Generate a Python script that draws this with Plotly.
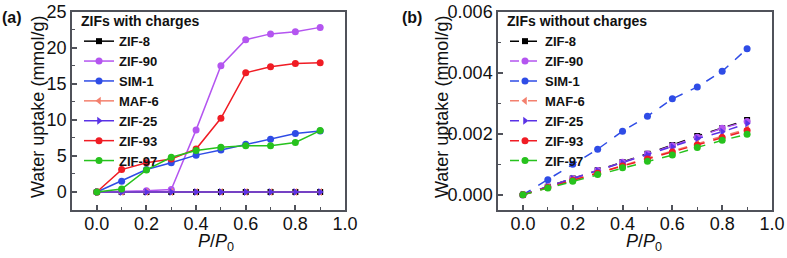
import plotly.graph_objects as go

W, H = 787, 258

p_p0 = [0.0, 0.1, 0.2, 0.3, 0.4, 0.5, 0.6, 0.7, 0.8, 0.9]
names = ["ZIF-8", "ZIF-90", "SIM-1", "MAF-6", "ZIF-25", "ZIF-93", "ZIF-97"]

# (a) ZIFs with charges
a_zif8 = [0, 0, 0, 0, 0, 0, 0, 0, 0, 0]
a_zif90 = [0, 0.05, 0.15, 0.35, 8.6, 17.5, 21.1, 21.9, 22.2, 22.8]
a_sim1 = [0, 1.5, 3.1, 4.05, 5.1, 5.8, 6.6, 7.3, 8.1, 8.45]
a_maf6 = [0, 0, 0, 0, 0, 0, 0, 0, 0, 0]
a_zif25 = [0, 0, 0, 0, 0, 0, 0, 0, 0, 0]
a_zif93 = [0, 3.1, 4.05, 4.55, 5.95, 10.2, 16.5, 17.35, 17.8, 17.9]
a_zif97 = [0, 0.4, 3.05, 4.8, 5.75, 6.2, 6.4, 6.4, 6.85, 8.5]

# (b) ZIFs without charges
b_zif8 = [0, 0.00026, 0.00053, 0.00080, 0.00107, 0.00134, 0.00163, 0.00192, 0.00218, 0.00245]
b_zif90 = [0, 0.00026, 0.00052, 0.00079, 0.00106, 0.00133, 0.00160, 0.00188, 0.00218, 0.00240]
b_sim1 = [0, 0.00049, 0.00100, 0.00149, 0.00208, 0.00257, 0.00314, 0.00353, 0.00404, 0.00478]
b_maf6 = [0, 0.00024, 0.00048, 0.00072, 0.00096, 0.00120, 0.00144, 0.00168, 0.00192, 0.00215]
b_zif25 = [0, 0.00026, 0.00052, 0.00078, 0.00104, 0.00130, 0.00157, 0.00184, 0.00206, 0.00233]
b_zif93 = [0, 0.00024, 0.00047, 0.00070, 0.00094, 0.00117, 0.00140, 0.00163, 0.00187, 0.00210]
b_zif97 = [0, 0.00022, 0.00044, 0.00066, 0.00088, 0.00110, 0.00130, 0.00155, 0.00178, 0.00198]

x_ticks = [0.0, 0.2, 0.4, 0.6, 0.8, 1.0]
a_yticks = [0, 5, 10, 15, 20, 25]
b_yticks = [0.000, 0.002, 0.004, 0.006]

colors = ["#000000", "#b455f0", "#2f4ce6", "#f3806e", "#5a32e6", "#f01c24", "#27c21d"]
symbols = ["square", "circle", "circle", "triangle-left", "triangle-right", "circle", "circle"]
sizes = [6, 7, 7, 7, 7, 7, 7]

a_series = [a_zif8, a_zif90, a_sim1, a_maf6, a_zif25, a_zif93, a_zif97]
b_series = [b_zif8, b_zif90, b_sim1, b_maf6, b_zif25, b_zif93, b_zif97]

FONT = "Liberation Sans, Arial, sans-serif"
fig = go.Figure()

for i, n in enumerate(names):
    fig.add_trace(go.Scatter(
        x=p_p0, y=a_series[i], name=n, mode="lines+markers",
        line=dict(color=colors[i], width=1.5),
        marker=dict(symbol=symbols[i], size=sizes[i], color=colors[i]),
        xaxis="x", yaxis="y", legend="legend"))
for i, n in enumerate(names):
    fig.add_trace(go.Scatter(
        x=p_p0, y=b_series[i], name=n, mode="lines+markers",
        line=dict(color=colors[i], width=1.5, dash="dash"),
        marker=dict(symbol=symbols[i], size=sizes[i], color=colors[i]),
        xaxis="x2", yaxis="y2", legend="legend2"))

frame = "#50525a"
tickfont = dict(family=FONT, size=18, color="#111111")
ydom = [1 - 210 / H, 1 - 11.5 / H]

def xaxis(dom, anchor):
    return dict(domain=dom, anchor=anchor, range=[-0.1, 1.0], tickvals=x_ticks,
                tickformat=".1f", ticks="inside", ticklen=5, tickwidth=1.5, tickcolor=frame,
                minor=dict(ticks="inside", dtick=0.1, tick0=0, ticklen=3, tickcolor=frame, tickwidth=1.2),
                showline=True, linecolor=frame, linewidth=1.5, mirror=True, automargin=False,
                ticklabelstandoff=-3,
                showgrid=False, zeroline=False, tickfont=tickfont)

def yaxis(anchor, rng, tv, fmt, mdt):
    return dict(domain=ydom, anchor=anchor, range=rng, tickvals=tv, tickformat=fmt,
                ticks="inside", ticklen=5, tickwidth=1.5, tickcolor=frame,
                minor=dict(ticks="inside", dtick=mdt, tick0=0, ticklen=3, tickcolor=frame, tickwidth=1.2),
                showline=True, linecolor=frame, linewidth=1.5, mirror=True, automargin=False,
                showgrid=False, zeroline=False, tickfont=tickfont)

legend_common = dict(bgcolor="rgba(0,0,0,0)", borderwidth=0, xanchor="left", yanchor="top",
                     font=dict(family=FONT, size=13, color="#111111", weight="bold"),
                     itemwidth=30, tracegroupgap=0)

fig.update_layout(
    width=W, height=H, margin=dict(l=0, r=0, t=0, b=0, autoexpand=False),
    paper_bgcolor="white", plot_bgcolor="white",
    font=dict(family=FONT),
    xaxis=xaxis([72 / W, 345 / W], "y"),
    yaxis=yaxis("x", [-2.5, 25], a_yticks, "d", 2.5),
    xaxis2=xaxis([498 / W, 772 / W], "y2"),
    yaxis2=yaxis("x2", [-0.0005, 0.006], b_yticks, ".3f", 0.001),
    legend=dict(**legend_common, x=79 / W, y=1 - 8 / H,
                title=dict(text="ZIFs with charges", side="top",
                           font=dict(family=FONT, size=14, color="#111111", weight="bold"))),
    legend2=dict(**legend_common, x=505 / W, y=1 - 8 / H,
                 title=dict(text="ZIFs without charges", side="top",
                            font=dict(family=FONT, size=14, color="#111111", weight="bold"))),
    showlegend=True,
)

ann = [
    dict(text="<b>(a)</b>", x=0 / W, y=1 - 17 / H, xanchor="left", yanchor="middle", size=16),
    dict(text="<b>(b)</b>", x=400 / W, y=1 - 17 / H, xanchor="left", yanchor="middle", size=16),
]
for a in ann:
    fig.add_annotation(text=a["text"], x=a["x"], y=a["y"], xref="paper", yref="paper",
                       xanchor=a["xanchor"], yanchor=a["yanchor"], showarrow=False,
                       font=dict(family=FONT, size=a["size"], color="#111111"))

for xc in [38, 442]:
    fig.add_annotation(text="Water uptake (mmol/g)", x=xc / W, y=1 - 107 / H, xref="paper", yref="paper",
                       textangle=-90, showarrow=False, xanchor="center", yanchor="middle",
                       font=dict(family=FONT, size=18, color="#111111"))
for xc in [216, 644]:
    fig.add_annotation(text="<i>P</i>/<i>P</i><sub>0</sub>", x=xc / W, y=1 - 229 / H, xref="paper", yref="paper",
                       showarrow=False, xanchor="center", yanchor="top",
                       font=dict(family=FONT, size=18, color="#111111"))

fig.write_html("out.html", config={"displayModeBar": False},
               post_script="document.body.style.margin='0px';document.body.style.overflow='hidden';")
